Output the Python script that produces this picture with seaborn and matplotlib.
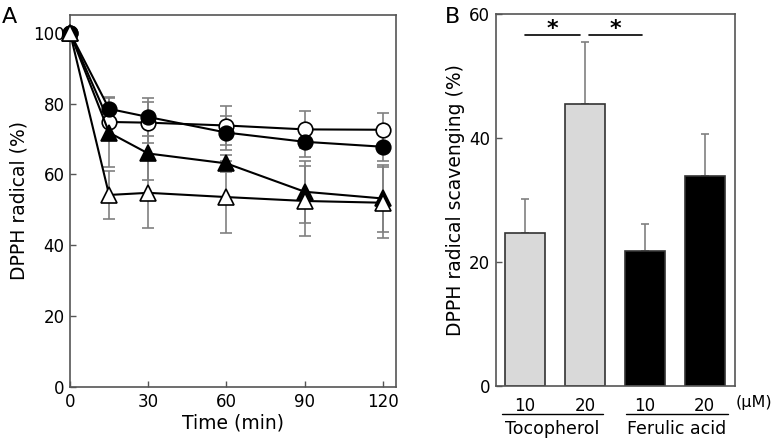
import numpy as np
import pandas as pd
import matplotlib
matplotlib.use("Agg")
import matplotlib.pyplot as plt
import seaborn as sns

# ---------------- data ----------------
time_min = [0, 15, 30, 60, 90, 120]
open_circle = [100, 74.8, 74.6, 73.8, 72.7, 72.6]
open_circle_sd = [0, 4.0, 5.7, 5.4, 5.2, 4.8]
filled_circle = [100, 78.5, 76.2, 71.8, 69.2, 67.8]
filled_circle_sd = [0, 3.4, 5.4, 4.8, 4.2, 4.0]
filled_triangle = [100, 71.8, 65.9, 63.1, 55.1, 53.2]
filled_triangle_sd = [0, 9.8, 7.4, 2.5, 8.7, 9.4]
open_triangle = [100, 54.2, 54.8, 53.6, 52.5, 52.0]
open_triangle_sd = [0, 6.8, 10.0, 10.2, 10.0, 10.0]

bar_ids = ["T10", "T20", "F10", "F20"]
dose_labels = ["10", "20", "10", "20"]
compounds = ["Tocopherol", "Tocopherol", "Ferulic acid", "Ferulic acid"]
scavenging = [24.7, 45.5, 21.8, 33.9]
scavenging_sd = [5.4, 10.0, 4.4, 6.8]
group_names = ["Tocopherol", "Ferulic acid"]

# ---------------- style ----------------
sns.set_theme(style="white")
plt.rcParams['font.family'] = ['DejaVu Sans']
plt.rcParams['text.color'] = 'black'
plt.rcParams['axes.labelcolor'] = 'black'
plt.rcParams['xtick.color'] = 'black'
plt.rcParams['ytick.color'] = 'black'
FS = 12
LFS = 13.5
spine_col = "#555555"
err_col = "#808080"

fig = plt.figure(figsize=(7.75, 4.4), dpi=100)
axA = fig.add_axes([0.0903, 0.1205, 0.511 - 0.0903, 0.966 - 0.1205])
axB = fig.add_axes([0.6396, 0.1227, 0.948 - 0.6396, 0.968 - 0.1227])

# ---------------- panel A ----------------
series = [
    (open_circle, open_circle_sd, "o", "white"),
    (filled_circle, filled_circle_sd, "o", "black"),
    (filled_triangle, filled_triangle_sd, "^", "black"),
    (open_triangle, open_triangle_sd, "^", "white"),
]
for vals, sd, mk, fc in series:
    axA.errorbar(time_min, vals, yerr=sd, fmt="none", ecolor=err_col,
                 elinewidth=1.2, capsize=4, capthick=1.2, zorder=1, clip_on=False)
order = [3, 2, 1, 0]
for i in order:
    vals, sd, mk, fc = series[i]
    df = pd.DataFrame({"t": time_min, "v": vals})
    sns.lineplot(data=df, x="t", y="v", ax=axA, color="black", linewidth=1.5,
                 marker=mk, markersize=11 if mk == "^" else 10.5,
                 markerfacecolor=fc, markeredgecolor="black", markeredgewidth=1.2,
                 clip_on=False, zorder=3 + i)

axA.set_xlim(0, 125)
axA.set_ylim(0, 105)
axA.set_xticks([0, 30, 60, 90, 120])
axA.set_yticks([0, 20, 40, 60, 80, 100])
axA.set_xlabel("Time (min)", fontsize=LFS, labelpad=2)
axA.set_ylabel("DPPH radical (%)", fontsize=LFS, labelpad=3)
axA.tick_params(direction="in", length=4, width=1, color=spine_col,
                labelsize=FS, left=True, bottom=True, pad=4, labelcolor="black")
for s in axA.spines.values():
    s.set_color(spine_col)
    s.set_linewidth(1.2)
fig.text(0.003, 0.961, "A", fontsize=16, va="center", ha="left")

# ---------------- panel B ----------------
dfB = pd.DataFrame({"bar": bar_ids, "value": scavenging, "compound": compounds})
sns.barplot(data=dfB, x="bar", y="value", hue="compound", dodge=False,
            palette={"Tocopherol": "#d9d9d9", "Ferulic acid": "black"},
            width=0.667, edgecolor="#333333", linewidth=1.2, legend=False,
            errorbar=None, ax=axB, zorder=2)
xpos = np.arange(len(bar_ids))
axB.errorbar(xpos, scavenging, yerr=[np.zeros(len(xpos)), scavenging_sd],
             fmt="none", ecolor=err_col, elinewidth=1.2, capsize=3,
             capthick=1.2, zorder=1)
axB.set_xlim(-0.49, 3.5)
axB.set_ylim(0, 60)
axB.set_yticks([0, 20, 40, 60])
axB.set_xticks(xpos)
axB.set_xticklabels(dose_labels)
axB.set_xlabel("")
axB.set_ylabel("DPPH radical scavenging (%)", fontsize=LFS, labelpad=3)
axB.tick_params(axis="y", direction="in", length=4, width=1, color=spine_col,
                labelsize=FS, left=True, pad=4, labelcolor="black")
axB.tick_params(axis="x", length=0, labelsize=FS, pad=8, labelcolor="black")
for s in axB.spines.values():
    s.set_color(spine_col)
    s.set_linewidth(1.2)

# significance markers
sig_y = 56.7
for x0, x1 in [(0.0, 0.92), (1.06, 1.95)]:
    axB.plot([x0, x1], [sig_y, sig_y], color="black", linewidth=1.2, clip_on=False)
    axB.text((x0 + x1) / 2, sig_y - 0.8, "*", ha="center", va="bottom",
             fontsize=16, fontweight="bold")

# group labels beneath
trans = axB.get_xaxis_transform()
for (x0, x1), name in zip([(-0.39, 1.3), (1.68, 3.38)], group_names):
    axB.plot([x0, x1], [-0.075, -0.075], color="black", linewidth=1.0,
             transform=trans, clip_on=False)
    axB.text((x0 + x1) / 2, -0.115, name, transform=trans, ha="center",
             va="center", fontsize=12.5)
axB.text(3.52, -0.045, "(\u03bcM)", transform=trans, ha="left", va="center",
         fontsize=11.5)
fig.text(0.574, 0.961, "B", fontsize=16, va="center", ha="left")

fig.savefig("out.png", dpi=100)
